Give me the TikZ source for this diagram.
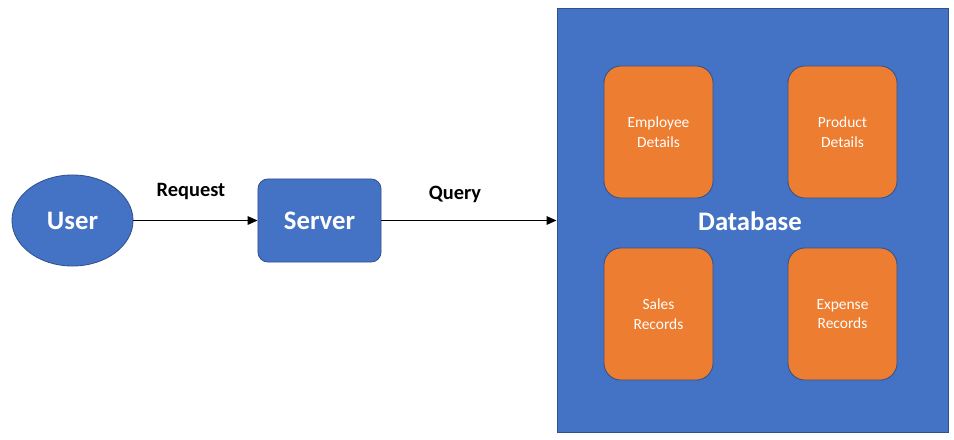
\documentclass[tikz,border=0pt]{standalone}
\usepackage{fontspec}
\setmainfont{Carlito}
\usetikzlibrary{arrows.meta, shapes.geometric}
\definecolor{officeblue}{HTML}{4472C4}
\definecolor{officeorange}{HTML}{ED7D31}
\definecolor{edgeblue}{HTML}{2F528F}

\begin{document}
\begin{tikzpicture}[x=0.025cm, y=-0.025cm,
    bluenode/.style={fill=officeblue, draw=edgeblue, line width=0.6pt, text=white, font=\fontsize{19}{22}\selectfont\bfseries},
    tablebox/.style={fill=officeorange, draw=edgeblue, line width=0.6pt, rounded corners=12pt, minimum width=2.725cm, minimum height=3.3cm, text=white, align=center, font=\fontsize{11}{14}\selectfont},
    flow/.style={-{Triangle[length=7pt, width=6pt]}, line width=1pt},
    flowlabel/.style={font=\fontsize{14.5}{17}\selectfont\bfseries}]
    \useasboundingbox (0,0) rectangle (954,440);
    % User and server
    \node[bluenode, ellipse, minimum width=3.025cm, minimum height=2.275cm, inner sep=0pt] (user) at (72.5,220.5) {User};
    \node[bluenode, rounded corners=7pt, minimum width=3.075cm, minimum height=2.075cm] (server) at (319.5,220.5) {Server};
    % Database block
    \node[fill=officeblue, draw=edgeblue, line width=0.6pt, minimum width=9.775cm, minimum height=10.6cm, inner sep=0pt] (db) at (752.5,220) {};
    \node[text=white, font=\fontsize{19}{22}\selectfont\bfseries] (dblabel) at (750,221) {Database};
    % Tables in the database
    \node[tablebox] (employee) at (658.5,132) {Employee\\Details};
    \node[tablebox] (product) at (842.5,132) {Product\\Details};
    \node[tablebox] (sales) at (658.5,314) {Sales\\Records};
    \node[tablebox] (expense) at (842.5,314) {Expense\\Records};
    % Connections
    \draw[flow] (user) -- (server);
    \draw[flow] (server) -- (db.west |- server);
    \node[flowlabel] (request) at (191,191) {Request};
    \node[flowlabel] (query) at (455,194) {Query};
\end{tikzpicture}
\end{document}
